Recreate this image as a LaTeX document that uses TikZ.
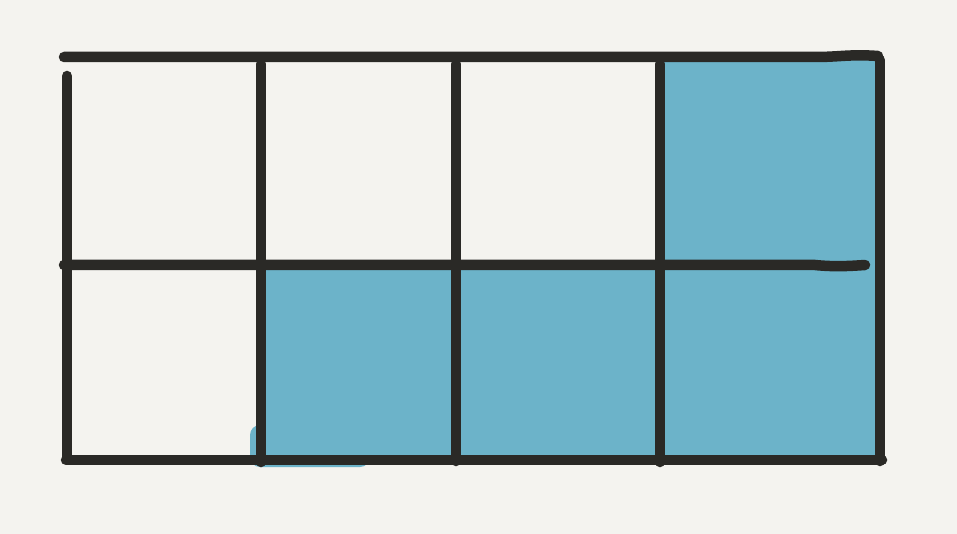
\documentclass[tikz,border=0pt]{standalone}
\usepackage{xcolor}
\definecolor{bg}{HTML}{F4F3EF}
\definecolor{ink}{HTML}{2A2926}
\definecolor{fillblue}{HTML}{6CB3C9}
\begin{document}
\begin{tikzpicture}[x=1pt,y=-1pt,
  gridline/.style={draw=ink,line width=10.5pt,line cap=round},
  cellfill/.style={fill=fillblue}]
\fill[bg] (0,0) rectangle (957,534);
\useasboundingbox (0,0) rectangle (957,534);
% blue filled cells
\fill[cellfill] (660,60) rectangle (884,460);
\fill[cellfill] (260,265) rectangle (660,463);
\fill[cellfill, rounded corners=10pt] (250,425) rectangle (370,467);
% horizontal lines
\draw[gridline] (64,57) -- (815,57) .. controls (840,57) and (850,54) .. (878,56);
\draw[gridline] (64,265) -- (815,265) .. controls (835,267) and (850,266) .. (865,265);
\draw[gridline] (66,460) -- (882,460);
% vertical lines
\draw[gridline] (67,76) -- (67,459);
\draw[gridline] (261,64) -- (261,462);
\draw[gridline] (456,64) -- (456,461);
\draw[gridline] (660,64) -- (660,462);
\draw[gridline] (880,60) -- (880,461);
\end{tikzpicture}
\end{document}
